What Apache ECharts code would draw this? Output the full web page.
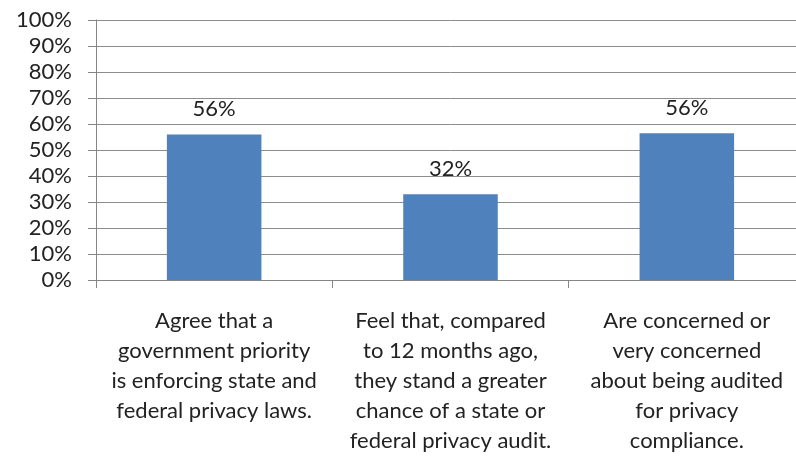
<!DOCTYPE html>
<html>
<head>
<meta charset="utf-8">
<script src="https://cdn.jsdelivr.net/npm/echarts@6/dist/echarts.min.js"></script>
<style>html,body{margin:0;padding:0;background:#fff;overflow:hidden;width:796px;height:466px;}#c{width:812px;height:466px;}</style>
</head>
<body>
<div id="c"></div>
<script>
const categories = [
  "Agree that a\ngovernment priority\nis enforcing state and\nfederal privacy laws.",
  "Feel that, compared\nto 12 months ago,\nthey stand a greater\nchance of a state or\nfederal privacy audit.",
  "Are concerned or\nvery concerned\nabout being audited\nfor privacy\ncompliance."
];
const values = [56, 33, 56.4];
const valueLabels = ["56%", "32%", "56%"];
const yTicks = [0, 10, 20, 30, 40, 50, 60, 70, 80, 90, 100];

const FONT = 'Lato';
const TXT = '#222222';
const chart = echarts.init(document.getElementById('c'), null, {renderer: 'canvas'});
chart.setOption({
  animation: false,
  grid: {left: 96, top: 20, right: 7, height: 260, containLabel: false},
  xAxis: {
    type: 'category',
    data: categories,
    axisLine: {lineStyle: {color: '#868686', width: 1}},
    axisTick: {show: true, length: 8, alignWithLabel: false, lineStyle: {color: '#868686'}},
    axisLabel: {interval: 0, margin: 26, fontSize: 22, lineHeight: 30, color: TXT, fontFamily: FONT, align: 'center'}
  },
  yAxis: {
    type: 'value',
    min: yTicks[0], max: yTicks[yTicks.length - 1], interval: 10,
    axisLine: {show: true, lineStyle: {color: '#868686'}},
    axisTick: {show: true, length: 8, lineStyle: {color: '#868686'}},
    splitLine: {lineStyle: {color: '#8c8c8c', width: 1}},
    axisLabel: {formatter: v => v + '%', fontSize: 22, color: TXT, fontFamily: FONT, margin: 24}
  },
  series: [{
    type: 'bar',
    data: values,
    barWidth: '40%',
    itemStyle: {color: '#4F81BD'},
    label: {
      show: true, position: 'top', distance: 14,
      formatter: p => valueLabels[p.dataIndex],
      fontSize: 22, color: TXT, fontFamily: FONT
    }
  }]
});
</script>
</body>
</html>
